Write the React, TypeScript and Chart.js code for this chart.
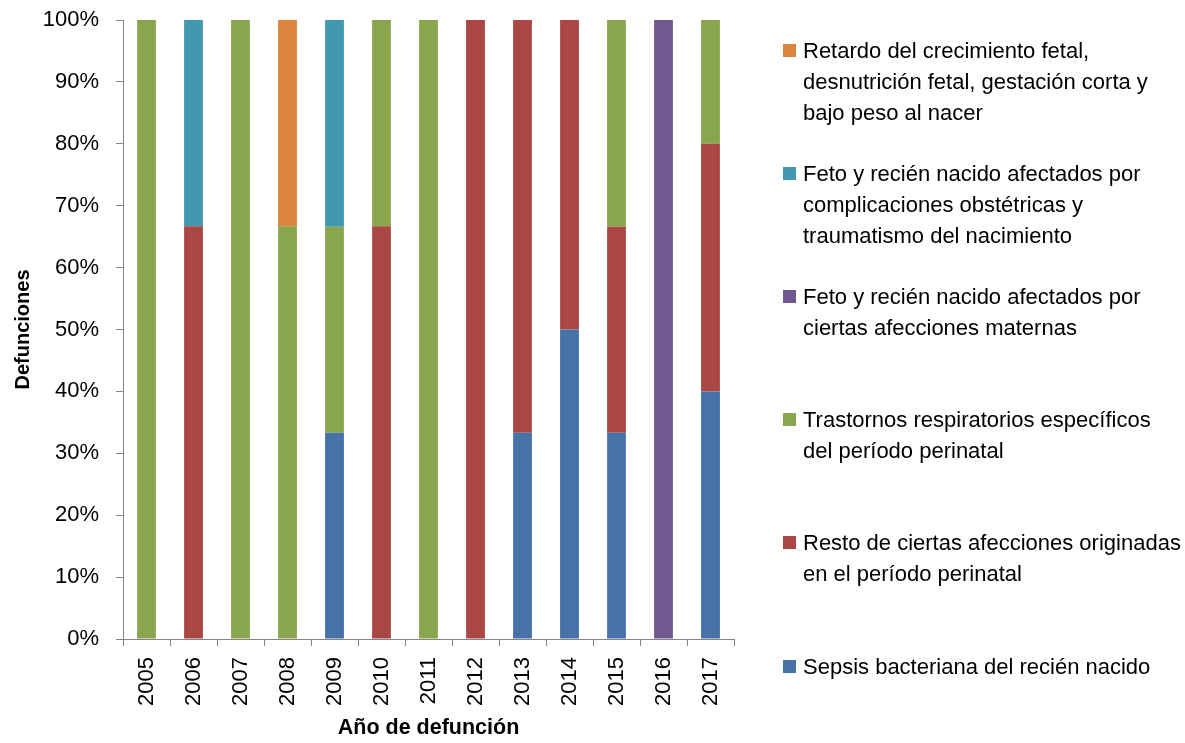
import React, { useEffect, useRef } from "react";
import { Chart, registerables } from "chart.js";

Chart.register(...registerables);

const years = ["2005", "2006", "2007", "2008", "2009", "2010", "2011", "2012", "2013", "2014", "2015", "2016", "2017"];

const sepsis = [0, 0, 0, 0, 33.3, 0, 0, 0, 33.3, 50, 33.3, 0, 40];
const resto = [0, 66.7, 0, 0, 0, 66.7, 0, 100, 66.7, 50, 33.3, 0, 40];
const trastornos = [100, 0, 100, 66.7, 33.3, 33.3, 100, 0, 0, 0, 33.4, 0, 20];
const maternas = [0, 0, 0, 0, 0, 0, 0, 0, 0, 0, 0, 100, 0];
const complicaciones = [0, 33.3, 0, 0, 33.4, 0, 0, 0, 0, 0, 0, 0, 0];
const retardo = [0, 0, 0, 33.3, 0, 0, 0, 0, 0, 0, 0, 0, 0];

const yTicks = [0, 10, 20, 30, 40, 50, 60, 70, 80, 90, 100];

const seriesNames = [
  ["Sepsis bacteriana del recién nacido"],
  ["Resto de ciertas afecciones originadas", "en el período perinatal"],
  ["Trastornos respiratorios específicos", "del período perinatal"],
  ["Feto y recién nacido afectados por", "ciertas afecciones maternas"],
  ["Feto y recién nacido afectados por", "complicaciones obstétricas y", "traumatismo del nacimiento"],
  ["Retardo del crecimiento fetal,", "desnutrición fetal, gestación corta y", "bajo peso al nacer"],
];
const seriesValues = [sepsis, resto, trastornos, maternas, complicaciones, retardo];
const seriesColors = ["#4572A7", "#AA4643", "#89A54E", "#71588F", "#4198AF", "#DB843D"];

const FONT = "'Liberation Sans', Arial, sans-serif";
const AXIS = "#868686";

export default function App() {
  const ref = useRef<HTMLCanvasElement | null>(null);

  useEffect(() => {
    if (!ref.current) return;
    const chart = new Chart(ref.current, {
      type: "bar",
      data: {
        labels: years,
        datasets: seriesValues.map((vals, i) => ({
          label: seriesNames[i].join(" "),
          data: vals,
          backgroundColor: seriesColors[i],
          borderWidth: 0,
          barPercentage: 0.4,
          categoryPercentage: 1,
        })),
      },
      options: {
        responsive: false,
        animation: false,
        layout: { padding: { left: 0, top: 20, right: 451, bottom: 0 } },
        plugins: { legend: { display: false }, tooltip: { enabled: false } },
        scales: {
          x: {
            stacked: true,
            afterFit: (s: any) => {
              s.height = 104;
              s.paddingLeft = 0;
              s.paddingRight = 0;
            },
            grid: {
              offset: true,
              drawOnChartArea: false,
              drawTicks: true,
              tickLength: 7,
              color: AXIS,
              tickColor: AXIS,
            },
            border: { display: true, color: AXIS, width: 1 },
            ticks: {
              minRotation: 90,
              maxRotation: 90,
              padding: 11,
              color: "#000",
              font: { family: FONT, size: 22 },
            },
            title: {
              display: true,
              text: "Año de defunción",
              color: "#000",
              font: { family: FONT, size: 21.5, weight: "bold" },
              padding: { top: 0, bottom: 2 },
            },
          },
          y: {
            stacked: true,
            min: 0,
            max: 100,
            afterFit: (s: any) => {
              s.width = 123;
              s.paddingTop = 0;
              s.paddingBottom = 0;
            },
            afterBuildTicks: (s: any) => {
              s.ticks = yTicks.map((v) => ({ value: v }));
            },
            grid: {
              drawOnChartArea: false,
              drawTicks: true,
              tickLength: 7,
              color: AXIS,
              tickColor: AXIS,
            },
            border: { display: true, color: AXIS, width: 1 },
            ticks: {
              padding: 17,
              color: "#000",
              font: { family: FONT, size: 22 },
              callback: (v: any) => v + "%",
            },
            title: {
              display: true,
              text: "Defunciones",
              color: "#000",
              font: { family: FONT, size: 20, weight: "bold" },
              padding: { top: 11, bottom: 0 },
            },
          },
        },
      },
    });
    return () => chart.destroy();
  }, []);

  const legendOrder = [5, 4, 3, 2, 1, 0];

  return (
    <div style={{ position: "absolute", left: 0, top: 0, width: 1185, height: 743, background: "#fff" }}>
      <canvas ref={ref} width={1185} height={743} style={{ position: "absolute", left: 0, top: 0 }} />
      {legendOrder.map((si, k) => (
        <div
          key={si}
          style={{
            position: "absolute",
            left: 783,
            top: 50 + k * 123.2 - 15.5,
            display: "flex",
            alignItems: "flex-start",
            fontFamily: FONT,
            fontSize: 22,
            lineHeight: "31px",
            color: "#000",
            whiteSpace: "nowrap",
          }}
        >
          <span
            style={{
              display: "inline-block",
              width: 13,
              height: 13,
              marginTop: 9,
              marginRight: 7,
              background: seriesColors[si],
              flex: "none",
            }}
          />
          <span>
            {seriesNames[si].map((line, j) => (
              <div key={j}>{line}</div>
            ))}
          </span>
        </div>
      ))}
    </div>
  );
}
